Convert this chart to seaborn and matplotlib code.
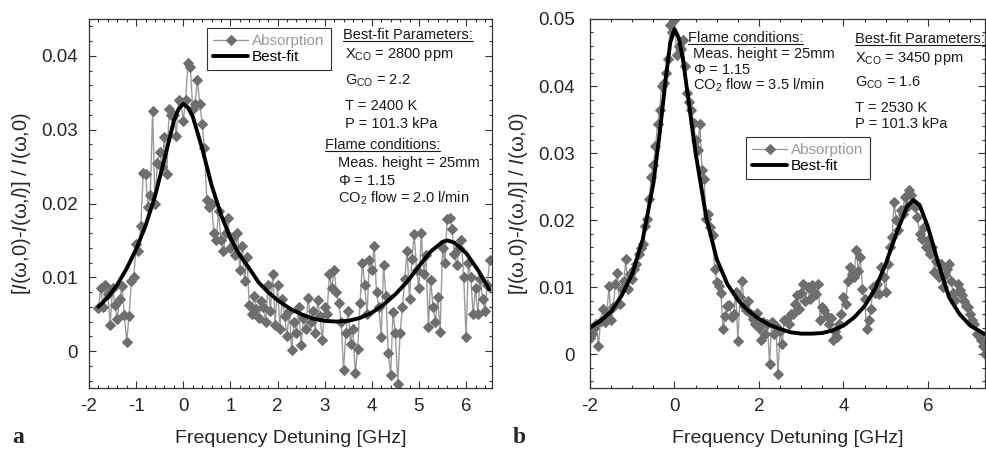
import numpy as np
import pandas as pd
import seaborn as sns
import matplotlib.pyplot as plt
from matplotlib.ticker import MultipleLocator, FuncFormatter
from matplotlib.lines import Line2D

sns.set_style("ticks")
plt.rcParams["font.family"] = ["Liberation Sans", "DejaVu Sans"]
plt.rcParams["axes.unicode_minus"] = False
plt.rcParams["mathtext.fontset"] = "custom"
plt.rcParams["mathtext.rm"] = "Liberation Sans"
plt.rcParams["mathtext.it"] = "Liberation Sans:italic"
plt.rcParams["mathtext.bf"] = "Liberation Sans:bold"

# ---- panel a : measured absorption (x step 0.05 GHz from -1.8 to 6.5) ----
a_x_start, a_x_step = -1.8, 0.05
a_absorption = [
    0.0058, 0.0085, 0.0060, 0.0090, 0.0078, 0.0036, 0.0085, 0.0063, 0.0044, 0.0070,
    0.0088, 0.0049, 0.0013, 0.0048, 0.0095, 0.0100, 0.0145, 0.0135, 0.0170, 0.0242,
    0.0240, 0.0195, 0.0212, 0.0326, 0.0200, 0.0255, 0.0270, 0.0250, 0.0290, 0.0240,
    0.0328, 0.0320, 0.0320, 0.0292, 0.0340, 0.0338, 0.0312, 0.0340, 0.0390, 0.0385,
    0.0328, 0.0335, 0.0368, 0.0335, 0.0308, 0.0275, 0.0205, 0.0195, 0.0200, 0.0160,
    0.0150, 0.0190, 0.0150, 0.0135, 0.0160, 0.0180, 0.0140, 0.0155, 0.0130, 0.0160,
    0.0110, 0.0143, 0.0095, 0.0128, 0.0062, 0.0050, 0.0075, 0.0057, 0.0045, 0.0068,
    0.0060, 0.0040, 0.0090, 0.0055, 0.0105, 0.0035, 0.0089, 0.0030, 0.0070, 0.0048,
    0.0020, 0.0055, 0.0001, 0.0040, 0.0025, 0.0060, 0.0008, 0.0045, 0.0030, 0.0072,
    0.0040, 0.0055, 0.0025, 0.0069, 0.0048, 0.0015, 0.0060, 0.0050, 0.0104, 0.0085,
    0.0110, 0.0080, 0.0065, 0.0040, -0.0026, 0.0025, 0.0055, 0.0010, 0.0030, -0.0030,
    0.0003, 0.0065, 0.0119, 0.0090, 0.0050, 0.0124, 0.0110, 0.0143, 0.0080, 0.0060,
    0.0019, 0.0116, 0.0075, -0.0003, -0.0032, 0.0053, 0.0024, -0.0044, 0.0024, 0.0060,
    0.0098, 0.0136, 0.0070, 0.0125, 0.0159, 0.0110, 0.0085, 0.0160, 0.0105, 0.0130,
    0.0033, 0.0096, 0.0060, 0.0040, 0.0073, 0.0026, 0.0140, 0.0120, 0.0179, 0.0180,
    0.0165, 0.0132, 0.0116, 0.0140, 0.0150, 0.0100, 0.0019, 0.0120, 0.0100, 0.0050,
    0.0085, 0.0050, 0.0098, 0.0070, 0.0055, 0.0090, 0.0123,
]
a_fit_x = [-1.8, -1.6, -1.4, -1.2, -1.0, -0.8, -0.6, -0.4, -0.2, -0.1, 0.0, 0.1, 0.2,
           0.4, 0.6, 0.8, 1.0, 1.2, 1.4, 1.6, 1.8, 2.0, 2.25, 2.5, 2.75, 3.0, 3.25,
           3.5, 3.75, 4.0, 4.25, 4.5, 4.75, 5.0, 5.25, 5.5, 5.6, 5.75, 6.0, 6.25, 6.5]
a_fit_y = [0.0060, 0.0073, 0.0090, 0.0112, 0.0138, 0.0170, 0.0210, 0.0260, 0.0312,
           0.0328, 0.0335, 0.0330, 0.0318, 0.0275, 0.0225, 0.0185, 0.0153, 0.0130,
           0.0112, 0.0093, 0.0080, 0.0069, 0.0058, 0.0050, 0.0044, 0.0041, 0.0040,
           0.0041, 0.0045, 0.0052, 0.0063, 0.0077, 0.0094, 0.0115, 0.0135, 0.0148,
           0.0150, 0.0147, 0.0133, 0.0110, 0.0083]

# ---- panel b : measured absorption (x step 0.05 GHz from -2.0 to 7.35) ----
b_x_start, b_x_step = -2.0, 0.05
b_absorption = [
    0.0025, 0.0030, 0.0039, 0.0045, 0.0013, 0.0050, 0.0068, 0.0048, 0.0062, 0.0102,
    0.0051, 0.0070, 0.0105, 0.0122, 0.0075, 0.0098, 0.0110, 0.0142, 0.0098, 0.0120,
    0.0113, 0.0128, 0.0135, 0.0150, 0.0158, 0.0165, 0.0192, 0.0202, 0.0232, 0.0265,
    0.0282, 0.0310, 0.0344, 0.0365, 0.0400, 0.0405, 0.0420, 0.0440, 0.0491, 0.0480,
    0.0498, 0.0446, 0.0460, 0.0455, 0.0468, 0.0430, 0.0390, 0.0377, 0.0364, 0.0345,
    0.0320, 0.0305, 0.0344, 0.0275, 0.0262, 0.0202, 0.0210, 0.0190, 0.0178, 0.0128,
    0.0108, 0.0102, 0.0091, 0.0038, 0.0058, 0.0072, 0.0073, 0.0056, 0.0060, 0.0093,
    0.0020, 0.0085, 0.0110, 0.0072, 0.0066, 0.0080, 0.0060, 0.0053, 0.0045, 0.0062,
    0.0040, 0.0021, 0.0048, 0.0031, 0.0045, -0.0014, 0.0048, 0.0030, 0.0042, -0.0029,
    0.0035, 0.0016, 0.0052, 0.0051, 0.0045, 0.0060, 0.0061, 0.0075, 0.0088, 0.0068,
    0.0092, 0.0105, 0.0080, 0.0100, 0.0083, 0.0104, 0.0093, 0.0090, 0.0105, 0.0051,
    0.0070, 0.0066, 0.0058, 0.0046, 0.0055, 0.0021, 0.0035, 0.0026, 0.0045, 0.0061,
    0.0086, 0.0075, 0.0110, 0.0130, 0.0120, 0.0115, 0.0155, 0.0125, 0.0145, 0.0098,
    0.0082, 0.0038, 0.0051, 0.0068, 0.0100, 0.0092, 0.0105, 0.0090, 0.0130, 0.0115,
    0.0093, 0.0135, 0.0160, 0.0175, 0.0227, 0.0200, 0.0185, 0.0215, 0.0210, 0.0235,
    0.0220, 0.0245, 0.0238, 0.0227, 0.0220, 0.0205, 0.0180, 0.0172, 0.0190, 0.0160,
    0.0170, 0.0150, 0.0160, 0.0123, 0.0140, 0.0115, 0.0135, 0.0100, 0.0118, 0.0128,
    0.0135, 0.0110, 0.0091, 0.0081, 0.0105, 0.0096, 0.0088, 0.0080, 0.0072, 0.0070,
    0.0061, 0.0051, 0.0045, 0.0031, 0.0028, 0.0021, 0.0012, 0.0001,
]
b_fit_x = [-2.0, -1.75, -1.5, -1.25, -1.0, -0.75, -0.5, -0.35, -0.2, -0.1, 0.0, 0.1,
           0.2, 0.35, 0.5, 0.75, 1.0, 1.25, 1.5, 1.75, 2.0, 2.25, 2.5, 2.75, 3.0, 3.25,
           3.5, 3.75, 4.0, 4.25, 4.5, 4.75, 5.0, 5.25, 5.5, 5.65, 5.8, 6.0, 6.25, 6.5,
           6.75, 7.0, 7.35]
b_fit_y = [0.0040, 0.0050, 0.0064, 0.0088, 0.0120, 0.0172, 0.0255, 0.0330, 0.0415,
           0.0465, 0.0485, 0.0472, 0.0440, 0.0370, 0.0300, 0.0205, 0.0142, 0.0105,
           0.0081, 0.0065, 0.0053, 0.0044, 0.0038, 0.0033, 0.0031, 0.0031, 0.0032,
           0.0036, 0.0043, 0.0055, 0.0072, 0.0098, 0.0135, 0.0180, 0.0220, 0.0230,
           0.0223, 0.0190, 0.0135, 0.0085, 0.0060, 0.0043, 0.0030]

a_params = ["Best-fit Parameters:", "X$_{\\mathrm{CO}}$ = 2800 ppm", "G$_{\\mathrm{CO}}$ = 2.2",
            "T = 2400 K", "P = 101.3 kPa"]
a_flame = ["Flame conditions:", "Meas. height = 25mm", "$\\Phi$ = 1.15",
           "CO$_{2}$ flow = 2.0 l/min"]
b_params = ["Best-fit Parameters:", "X$_{\\mathrm{CO}}$ = 3450 ppm", "G$_{\\mathrm{CO}}$ = 1.6",
            "T = 2530 K", "P = 101.3 kPa"]
b_flame = ["Flame conditions:", "Meas. height = 25mm", "$\\Phi$ = 1.15",
           "CO$_{2}$ flow = 3.5 l/min"]

W, H = 986, 449
fig = plt.figure(figsize=(W / 100, H / 100), dpi=100)
ax1 = fig.add_axes([89 / W, 61 / H, 403 / W, 369 / H])
ax2 = fig.add_axes([590 / W, 61 / H, 395 / W, 369 / H])

data_grey = "#6e6e6e"
line_grey = "#9a9a9a"


def draw_panel(ax, x0, step, absorption, fit_x, fit_y):
    xs = x0 + step * np.arange(len(absorption))
    df = pd.DataFrame({"x": xs, "y": absorption})
    sns.lineplot(data=df, x="x", y="y", ax=ax, color=line_grey, linewidth=1.0,
                 marker="D", markersize=4.8, markerfacecolor=data_grey,
                 markeredgecolor=data_grey, label="Absorption", sort=False)
    sns.lineplot(x=fit_x, y=fit_y, ax=ax, color="black", linewidth=2.8,
                 label="Best-fit", sort=False)


draw_panel(ax1, a_x_start, a_x_step, a_absorption, a_fit_x, a_fit_y)
draw_panel(ax2, b_x_start, b_x_step, b_absorption, b_fit_x, b_fit_y)

ax1.set_xlim(-2, 6.55)
ax1.set_ylim(-0.005, 0.045)
ax2.set_xlim(-2, 7.35)
ax2.set_ylim(-0.005, 0.05)
ax1.xaxis.set_major_locator(MultipleLocator(1))
ax1.xaxis.set_minor_locator(MultipleLocator(0.2))
ax2.xaxis.set_major_locator(MultipleLocator(2))
ax2.xaxis.set_minor_locator(MultipleLocator(0.5))

yfmt = FuncFormatter(lambda v, p: "0" if abs(v) < 1e-9 else f"{v:.2f}")
ylabel = "[$I$(ω,0)-$I$(ω,$l$)] / $I$(ω,0)"
for ax, ypad in [(ax1, 8), (ax2, 11)]:
    ax.yaxis.set_major_locator(MultipleLocator(0.01))
    ax.yaxis.set_minor_locator(MultipleLocator(0.002))
    ax.yaxis.set_major_formatter(yfmt)
    ax.tick_params(which="both", direction="in", top=True, right=True,
                   color="#333333", width=0.8, labelsize=13.5)
    ax.tick_params(which="major", length=5)
    ax.tick_params(which="minor", length=2.5)
    ax.tick_params(axis="x", pad=7)
    ax.tick_params(axis="y", pad=ypad)
    for s in ax.spines.values():
        s.set_color("#333333")
        s.set_linewidth(0.9)
    ax.set_xlabel("Frequency Detuning [GHz]", fontsize=14, labelpad=11)
    ax.set_ylabel(ylabel, fontsize=14.5, labelpad=6)

# legends
for ax, anchor in [(ax1, (207 / W, 1 - 28 / H)), (ax2, (746 / W, 1 - 137 / H))]:
    leg = ax.legend(loc="upper left", bbox_to_anchor=anchor, bbox_transform=fig.transFigure,
                    borderaxespad=0, fontsize=11, frameon=True, fancybox=False,
                    framealpha=1, edgecolor="#333333", handlelength=2.3,
                    handletextpad=0.25, borderpad=0.4, labelspacing=0.12)
    leg.get_frame().set_linewidth(0.8)
    for t, c in zip(leg.get_texts(), [line_grey, "black"]):
        t.set_color(c)


def put_lines(items, xs, baselines, underline_first=True):
    out = []
    for i, (s, x, b) in enumerate(zip(items, xs, baselines)):
        t = fig.text(x / W, 1 - b / H, s, fontsize=10.5, color="#1a1a1a",
                     ha="left", va="baseline")
        out.append((t, b, i == 0 and underline_first))
    return out


texts = []
texts += put_lines(a_params, [343, 345, 345, 345, 345], [39, 58, 85, 110, 128])
texts += put_lines(a_flame, [325, 338, 338, 338], [149, 167, 185, 203])
texts += put_lines(b_params, [855, 855, 855, 855, 855], [43, 62, 87, 112, 128])
texts += put_lines(b_flame, [688, 693, 693, 693], [42, 58, 74, 90])

fig.canvas.draw()
renderer = fig.canvas.get_renderer()
for t, b, ul in texts:
    if ul:
        bb = t.get_window_extent(renderer)
        y = 1 - (b + 2) / H
        fig.add_artist(Line2D([bb.x0 / W, bb.x1 / W], [y, y], transform=fig.transFigure,
                              color="#1a1a1a", linewidth=0.8))

fig.text(12 / W, 1 - 443 / H, "a", fontsize=17, fontweight="bold",
         family=["Liberation Serif"], va="baseline")
fig.text(513 / W, 1 - 443 / H, "b", fontsize=17, fontweight="bold",
         family=["Liberation Serif"], va="baseline")

fig.savefig("out.png", dpi=100)
